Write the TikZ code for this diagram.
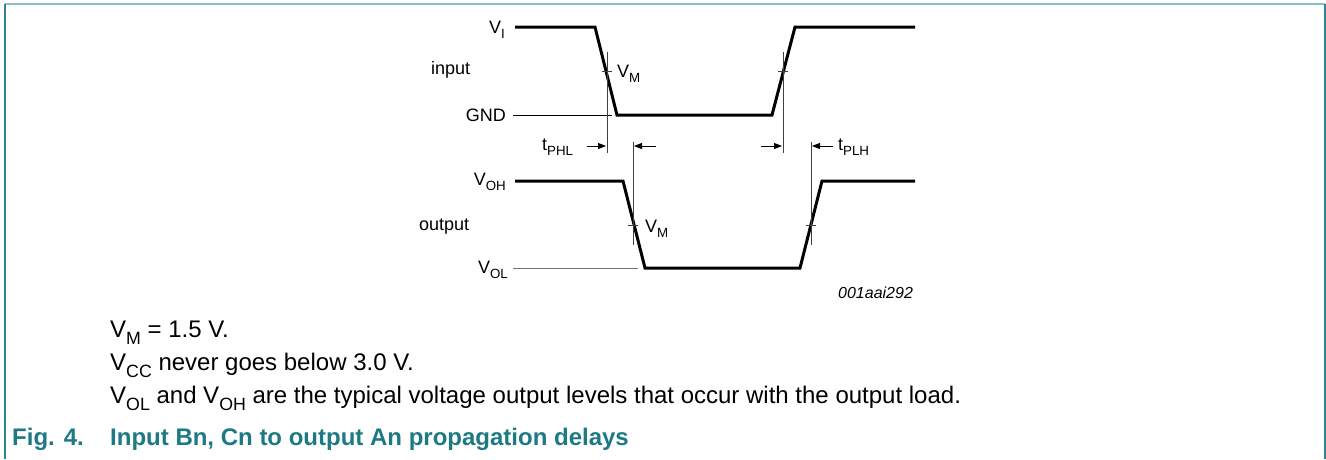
\documentclass[tikz,border=0pt]{standalone}
\usepackage{fontspec}
\setmainfont{Liberation Sans}
\usetikzlibrary{arrows.meta}
\definecolor{capteal}{HTML}{1D7A85}
\definecolor{frameteal}{HTML}{2C8690}
\definecolor{topteal}{HTML}{8CBFC3}
\newcommand{\sbs}[1]{\raisebox{-0.3em}{\scalebox{0.74}{#1}}}
\begin{document}
\begin{tikzpicture}[x=1pt,y=-1pt,
  wave/.style={line width=3pt, line join=miter, line cap=butt},
  guide/.style={line width=1pt, draw=black!75},
  tickmark/.style={line width=0.9pt, draw=black!75},
  lbl/.style={font=\fontsize{18}{20}\selectfont, inner sep=0pt},
  txt/.style={font=\fontsize{24}{28}\selectfont, inner sep=0pt, anchor=base west},
  captxt/.style={font=\fontsize{24}{28}\selectfont\bfseries, text=capteal, inner sep=0pt, anchor=base west},
  arr/.style={-{Triangle[length=8pt,width=6pt]}, line width=1pt}]
\useasboundingbox (0,0) rectangle (1326,459);
% frame
\draw[topteal, line width=2pt] (5,4) -- (1325,4);
\draw[frameteal, line width=2pt] (5,4) -- (5,459);
\draw[frameteal, line width=2pt] (1325,4) -- (1325,459);

% input waveform
\draw[wave] (515,27) -- (595,27) -- (617,115) -- (772,115) -- (795,27) -- (915,27);
\draw[line width=1pt] (513,115) -- (612,115);
% output waveform
\draw[wave] (515,181) -- (623,181) -- (645,268) -- (800,268) -- (822,181) -- (915,181);
\draw[line width=1pt, draw=black!55] (513,268) -- (638,268);

% guides
\coordinate (g1t) at (607,52);  \coordinate (g1b) at (607,153);
\coordinate (g2t) at (783,52);  \coordinate (g2b) at (783,153);
\coordinate (g3t) at (633,142); \coordinate (g3b) at (633,245);
\coordinate (g4t) at (811,142); \coordinate (g4b) at (811,245);
\draw[guide] (g1t) -- (g1b);
\draw[guide] (g2t) -- (g2b);
\draw[guide] (g3t) -- (g3b);
\draw[guide] (g4t) -- (g4b);
% ticks
\draw[tickmark] (602,71) -- (612,71);
\draw[tickmark] (778,71) -- (788,71);
\draw[tickmark] (628,225) -- (638,225);
\draw[tickmark] (806,225) -- (816,225);

% arrows
\coordinate (a1s) at (587,146); \coordinate (a1e) at (606,146);
\coordinate (a2s) at (656,146); \coordinate (a2e) at (634,146);
\coordinate (a3s) at (761,146); \coordinate (a3e) at (782,146);
\coordinate (a4s) at (833,146); \coordinate (a4e) at (812,146);
\draw[arr] (a1s) -- (a1e);
\draw[arr] (a2s) -- (a2e);
\draw[arr] (a3s) -- (a3e);
\draw[arr] (a4s) -- (a4e);

% labels
\node[lbl, anchor=base east] (vi) at (505,33) {V\sbs{I}};
\node[lbl, anchor=base west] (inp) at (431,74) {input};
\node[lbl, anchor=base east] (gnd) at (506,121) {GND};
\node[lbl, anchor=base west] (vm1) at (617,77) {V\sbs{M}};
\node[lbl, anchor=base west] (tphl) at (542,150) {t\sbs{PHL}};
\node[lbl, anchor=base west] (tplh) at (838,150) {t\sbs{PLH}};
\node[lbl, anchor=base east] (voh) at (506,185) {V\sbs{OH}};
\node[lbl, anchor=base west] (outp) at (419,230) {output};
\node[lbl, anchor=base west] (vm2) at (645,232) {V\sbs{M}};
\node[lbl, anchor=base east] (vol) at (508,273) {V\sbs{OL}};
\node[font=\fontsize{16}{18}\selectfont\itshape, inner sep=0pt, anchor=base west] (id) at (838,298) {001aai292};

% notes
\node[txt] (n1) at (110,337) {V\sbs{M} = 1.5 V.};
\node[txt] (n2) at (110,370) {V\sbs{CC} never goes below 3.0 V.};
\node[txt] (n3) at (110,403) {V\sbs{OL} and V\sbs{OH} are the typical voltage output levels that occur with the output load.};
\node[captxt] (c1) at (12,445) {Fig. 4.};
\node[captxt] (c2) at (110,445) {Input Bn, Cn to output An propagation delays};
\end{tikzpicture}
\end{document}
